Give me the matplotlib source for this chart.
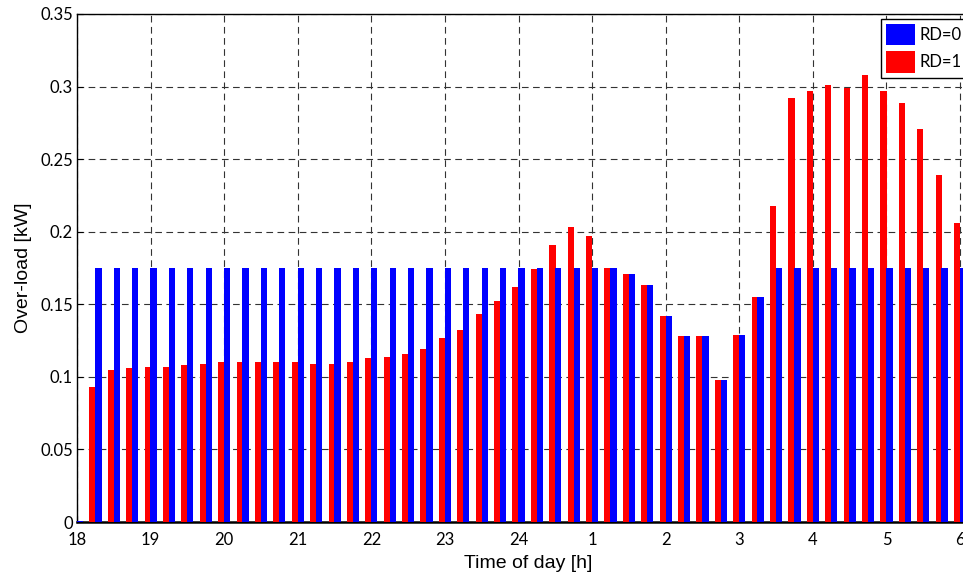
import matplotlib
matplotlib.use("Agg")
import matplotlib.pyplot as plt

# time of day in hours (after midnight written as 24 + h)
time_h = [18.0, 18.25, 18.5, 18.75, 19.0, 19.25, 19.5, 19.75,
          20.0, 20.25, 20.5, 20.75, 21.0, 21.25, 21.5, 21.75,
          22.0, 22.25, 22.5, 22.75, 23.0, 23.25, 23.5, 23.75,
          24.0, 24.25, 24.5, 24.75, 25.0, 25.25, 25.5, 25.75,
          26.0, 26.25, 26.5, 26.75, 27.0, 27.25, 27.5, 27.75,
          28.0, 28.25, 28.5, 28.75, 29.0, 29.25, 29.5, 29.75,
          30.0]

# over-load [kW], RD=0
rd0 = [0.001, 0.175, 0.175, 0.175, 0.175, 0.175, 0.175, 0.175,
       0.175, 0.175, 0.175, 0.175, 0.175, 0.175, 0.175, 0.175,
       0.175, 0.175, 0.175, 0.175, 0.175, 0.175, 0.175, 0.175,
       0.175, 0.175, 0.175, 0.175, 0.175, 0.175, 0.171, 0.163,
       0.142, 0.128, 0.128, 0.098, 0.129, 0.155, 0.175, 0.175,
       0.175, 0.175, 0.175, 0.175, 0.175, 0.175, 0.175, 0.175,
       0.175]

# over-load [kW], RD=1
rd1 = [0.0, 0.093, 0.105, 0.106, 0.107, 0.107, 0.108, 0.109,
       0.110, 0.110, 0.110, 0.110, 0.110, 0.109, 0.109, 0.110,
       0.113, 0.114, 0.116, 0.119, 0.127, 0.132, 0.143, 0.152,
       0.162, 0.174, 0.191, 0.203, 0.197, 0.175, 0.171, 0.163,
       0.142, 0.128, 0.128, 0.098, 0.129, 0.155, 0.218, 0.292,
       0.297, 0.301, 0.299, 0.308, 0.297, 0.289, 0.271, 0.239,
       0.206]

tick_hours = [18, 19, 20, 21, 22, 23, 24, 25, 26, 27, 28, 29, 30]
tick_labels = ['18', '19', '20', '21', '22', '23', '24', '1', '2', '3', '4', '5', '6']
y_ticks = [0, 0.05, 0.1, 0.15, 0.2, 0.25, 0.3, 0.35]
y_labels = ['0', '0.05', '0.1', '0.15', '0.2', '0.25', '0.3', '0.35']

fig = plt.figure(figsize=(9.63, 5.73), dpi=100)
ax = fig.add_axes([0.080, 0.089, 0.936, 0.8866])

w = 0.085
off = 0.04
x_red = [t - off for t in time_h]
x_blue = [t + off for t in time_h]
ax.bar(x_red, rd1, width=w, color='#ff0000', edgecolor='none', zorder=3, label='RD=1')
ax.bar(x_blue, rd0, width=w, color='#0000ff', edgecolor='none', zorder=3, label='RD=0')

ax.set_xlim(18, 30.25)
ax.set_ylim(0, 0.35)
ax.set_xticks(tick_hours)
ax.set_xticklabels(tick_labels, fontfamily='Lato', fontsize=12)
ax.set_yticks(y_ticks)
ax.set_yticklabels(y_labels, fontfamily='Lato', fontsize=12)
ax.tick_params(direction='in', length=4, width=0.8)
ax.tick_params(axis='x', pad=7)
ax.tick_params(axis='y', pad=3)

ax.grid(True, color='0.2', linestyle=(0, (6, 4)), linewidth=0.8, zorder=0)
ax.set_axisbelow(True)
for s in ax.spines.values():
    s.set_linewidth(1.0)
ax.spines['bottom'].set_linewidth(1.8)

ax.set_xlabel('Time of day [h]', fontfamily='Liberation Sans', fontsize=14, labelpad=5)
ax.set_ylabel('Over-load [kW]', fontfamily='Liberation Sans', fontsize=14, labelpad=6)

handles, labels = ax.get_legend_handles_labels()
leg = ax.legend(handles[::-1], labels[::-1], loc='upper left', bbox_to_anchor=(0.892, 0.99),
                prop={'family': 'Lato', 'size': 12}, fancybox=False, framealpha=1,
                edgecolor='black', handlelength=1.75, handleheight=1.6,
                borderpad=0.3, labelspacing=0.35, handletextpad=0.25, borderaxespad=0)
leg.get_frame().set_linewidth(1.0)

fig.savefig('out.png', dpi=100)
